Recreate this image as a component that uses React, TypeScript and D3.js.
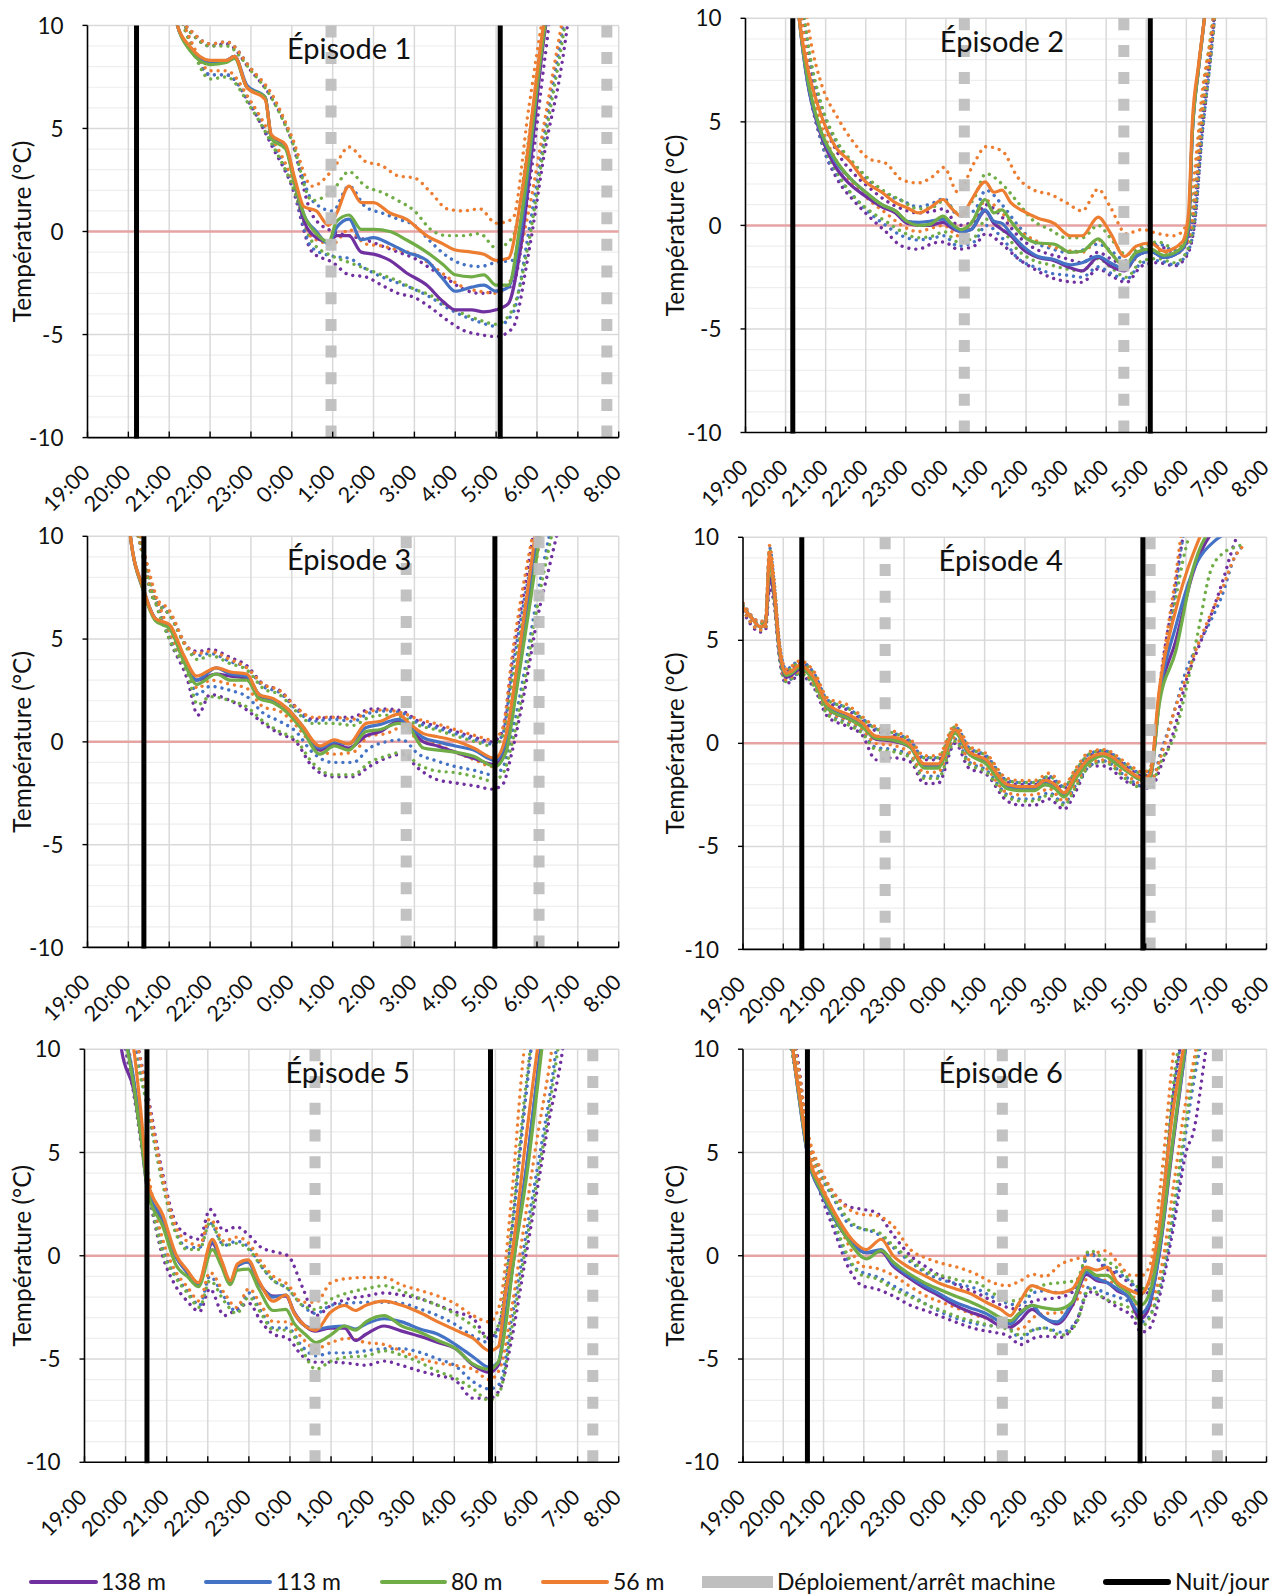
import React from 'react';
import * as d3 from 'd3';

// ---------- shared labels ----------
const hourLabels = ['19:00', '20:00', '21:00', '22:00', '23:00', '0:00', '1:00', '2:00', '3:00', '4:00', '5:00', '6:00', '7:00', '8:00'];
const depthLabels = ['138 m', '113 m', '80 m', '56 m'];
const depthColors = ['#7030A0', '#4472C4', '#70AD47', '#ED7D31'];
const markerLabels = ['Déploiement/arrêt machine', 'Nuit/jour'];
const episodeTitles = ['Épisode 1', 'Épisode 2', 'Épisode 3', 'Épisode 4', 'Épisode 5', 'Épisode 6'];
const yTicks = [-10, -5, 0, 5, 10];

// time unit: hours after 19:00

// ---------- Episode 1 ----------
const ep1Time = [2.0, 2.2, 2.5, 3.0, 3.4, 3.6, 3.9, 4.35, 4.5, 4.85, 5.07, 5.3, 5.6, 5.9, 6.1, 6.4, 6.7, 7.0, 7.4, 7.8, 8.3, 8.7, 9.0, 9.4, 9.7, 10.0, 10.3, 10.6, 11.2, 11.6];
const ep1S138 = [12, 10, 8.9, 8.2, 8.3, 8.5, 7.0, 6.5, 4.6, 4.1, 2.4, 0.5, -0.3, -0.5, -0.2, -0.2, -1.0, -1.1, -1.4, -2.0, -2.6, -3.4, -3.8, -3.8, -3.9, -3.8, -3.5, -0.8, 9.8, 14];
const ep1S113 = [12, 10, 8.9, 8.2, 8.3, 8.5, 7.1, 6.5, 4.6, 4.1, 2.4, 0.8, 0.0, -0.6, 0.2, 0.6, -0.4, -0.3, -0.6, -1.0, -1.4, -2.3, -2.9, -2.7, -2.6, -2.9, -2.7, 0.0, 10.2, 14];
const ep1S80 = [12, 10, 8.8, 8.1, 8.2, 8.4, 7.0, 6.5, 4.5, 4.0, 2.3, 0.8, -0.1, -0.5, 0.5, 0.8, 0.1, 0.1, 0.0, -0.4, -1.0, -1.6, -2.1, -2.2, -2.1, -2.6, -2.6, 0.5, 10, 14];
const ep1S56 = [12, 10, 9.0, 8.3, 8.3, 8.5, 7.0, 6.4, 4.7, 4.2, 2.6, 1.2, 1.0, 0.3, 0.9, 2.2, 1.4, 1.4, 0.9, 0.6, -0.2, -0.6, -0.9, -1.0, -1.1, -1.4, -1.3, 1.5, 10.5, 14];
const ep1EnvTime = [2.0, 2.5, 3.0, 3.4, 4.0, 4.5, 5.0, 5.5, 6.0, 6.4, 6.8, 7.2, 7.6, 8.0, 8.4, 8.8, 9.2, 9.6, 10.0, 10.4, 10.8, 11.2, 11.6, 12.0];
const ep1Hi56 = [11, 9.8, 9.1, 9.2, 7.9, 6.7, 4.6, 2.2, 3.0, 4.1, 3.4, 3.2, 2.7, 2.6, 1.9, 1.1, 1.0, 1.1, 0.4, 0.6, 6.0, 11, 14, 14];
const ep1Lo56 = [12, 9.4, 7.8, 7.8, 6.3, 4.6, 2.6, -0.3, -0.6, 0.1, -0.6, -0.7, -0.9, -1.1, -1.6, -2.2, -2.7, -2.9, -3.0, -2.2, 1.0, 5.5, 10, 14];
const ep1Hi80 = [11, 9.7, 9.0, 9.0, 7.8, 6.5, 4.4, 1.5, 2.0, 2.9, 2.2, 1.9, 1.5, 1.0, 0.1, -0.2, -0.2, -0.1, -0.8, -0.3, 4.5, 10.5, 14, 14];
const ep1Lo80 = [12, 9.2, 7.4, 7.5, 6.0, 4.3, 2.3, -0.5, -1.2, -1.5, -1.8, -2.1, -2.4, -2.8, -3.1, -3.6, -4.0, -4.3, -4.5, -3.8, -0.5, 4.5, 9.0, 14];
const ep1Hi113 = [11, 9.8, 9.1, 9.2, 7.9, 6.6, 4.5, 1.5, 1.0, 2.2, 1.2, 0.9, 0.6, 0.3, -0.5, -1.2, -1.6, -1.7, -1.5, -1.4, 3.5, 10, 14, 14];
const ep1Lo113 = [12, 9.3, 7.6, 7.6, 6.2, 4.4, 2.4, -0.8, -1.2, -1.3, -1.8, -2.2, -2.5, -2.8, -3.2, -3.7, -4.1, -4.4, -4.6, -4.0, 0.0, 5.0, 9.5, 14];
const ep1Hi138 = [11, 9.7, 9.0, 9.1, 7.8, 6.5, 4.4, 0.8, 0.0, -0.2, -0.4, -0.7, -1.0, -1.3, -1.8, -2.3, -2.8, -3.0, -2.9, -2.6, 2.0, 8.5, 14, 14];
const ep1Lo138 = [12, 9.3, 7.6, 7.6, 6.1, 4.2, 2.2, -1.0, -1.5, -2.1, -2.2, -2.6, -3.0, -3.2, -3.7, -4.3, -4.8, -5.0, -5.1, -4.7, -1.0, 4.0, 8.0, 14];
const ep1Night = [1.2, 10.1];
const ep1Machine = [5.96, 12.71];

// ---------- Episode 2 ----------
const ep2Time = [1.2, 1.34, 1.54, 1.84, 2.24, 2.6, 3.0, 3.4, 3.74, 4.03, 4.33, 4.6, 4.93, 5.13, 5.38, 5.63, 5.98, 6.2, 6.4, 6.62, 6.92, 7.3, 7.7, 8.1, 8.4, 8.8, 9.1, 9.46, 9.75, 10.1, 10.45, 10.9, 11.05, 11.15, 11.3, 11.45, 11.6];
const ep2S138 = [13, 10, 7.0, 4.6, 2.85, 2.0, 1.4, 0.9, 0.6, 0.1, 0.0, 0.0, 0.15, -0.1, -0.3, -0.2, 0.7, 0.1, -0.2, -0.5, -1.15, -1.55, -1.7, -2.05, -2.2, -1.55, -1.95, -2.2, -1.5, -1.25, -1.55, -1.15, -0.3, 4.5, 7.5, 10, 13];
const ep2S113 = [13, 10, 7.0, 4.7, 3.1, 2.3, 1.6, 1.0, 0.7, 0.2, 0.15, 0.2, 0.3, 0.0, -0.3, -0.2, 0.75, 0.2, 0.1, -0.4, -1.0, -1.5, -1.65, -1.9, -1.8, -1.5, -1.8, -2.1, -1.5, -1.25, -1.55, -1.15, -0.2, 4.5, 7.5, 10, 13];
const ep2S80 = [13, 10, 7.2, 4.8, 3.2, 2.3, 1.6, 1.0, 0.7, 0.2, 0.0, 0.05, 0.45, 0.1, -0.2, 0.1, 1.25, 0.6, 0.75, 0.2, -0.5, -0.85, -0.9, -1.3, -1.25, -0.65, -1.3, -1.95, -1.3, -1.15, -1.45, -1.05, 0.0, 4.5, 7.5, 10, 13];
const ep2S56 = [13, 10, 7.7, 5.6, 3.8, 3.1, 2.1, 1.6, 1.1, 0.85, 0.6, 0.85, 1.25, 0.85, 0.45, 1.2, 2.1, 1.6, 1.7, 1.1, 0.7, 0.35, 0.1, -0.5, -0.5, 0.4, -0.35, -1.5, -1.0, -0.85, -1.25, -0.8, 0.5, 5.0, 7.7, 10, 13];
const ep2EnvTime = [1.2, 1.4, 1.6, 1.9, 2.3, 2.7, 3.1, 3.5, 3.9, 4.3, 4.7, 4.95, 5.3, 5.7, 6.0, 6.4, 6.8, 7.2, 7.6, 8.0, 8.4, 8.8, 9.1, 9.5, 9.9, 10.3, 10.7, 11.0, 11.2, 11.4, 11.6, 11.8];
const ep2Hi56 = [13, 12, 9.2, 6.8, 5.2, 4.0, 3.2, 3.0, 2.2, 2.05, 2.4, 2.8, 1.6, 3.0, 3.8, 3.6, 2.3, 1.7, 1.5, 1.1, 0.7, 1.75, 0.9, -0.4, -0.2, -0.4, -0.5, 0.0, 2.5, 6.5, 9.0, 12];
const ep2Lo56 = [13, 10, 7.2, 4.8, 3.0, 2.0, 1.2, 0.6, 0.0, -0.3, -0.1, 0.0, -0.5, 0.3, 1.2, 0.6, -0.2, -0.7, -1.0, -1.2, -1.3, -0.7, -1.3, -2.0, -1.3, -1.2, -1.4, -0.9, 1.0, 5.5, 8.5, 12];
const ep2Hi80 = [13, 11, 8.3, 5.8, 4.0, 3.0, 2.2, 1.6, 1.2, 0.8, 0.9, 1.2, 0.6, 1.3, 2.5, 2.0, 1.1, 0.2, -0.2, -0.6, -0.6, 0.0, -0.6, -1.4, -1.0, -0.8, -1.1, -0.7, 1.5, 6.0, 9.0, 12];
const ep2Lo80 = [13, 9.6, 6.6, 4.2, 2.5, 1.4, 0.7, 0.2, -0.3, -0.6, -0.5, -0.3, -0.8, -0.6, 0.3, -0.2, -1.2, -1.7, -1.9, -2.1, -2.2, -1.6, -2.0, -2.5, -1.7, -1.6, -1.8, -1.3, 0.3, 4.8, 8.0, 12];
const ep2Hi113 = [13, 11, 8.2, 5.7, 3.9, 2.9, 2.1, 1.5, 1.2, 0.9, 1.1, 1.3, 0.5, 0.7, 1.7, 1.0, 0.0, -0.8, -1.1, -1.3, -1.2, -0.9, -1.2, -1.7, -1.1, -0.9, -1.2, -0.8, 1.0, 5.5, 8.8, 12];
const ep2Lo113 = [13, 9.5, 6.6, 4.0, 2.4, 1.4, 0.6, 0.0, -0.5, -0.7, -0.6, -0.5, -1.0, -0.8, 0.0, -0.6, -1.6, -2.0, -2.3, -2.4, -2.5, -2.0, -2.3, -2.6, -1.8, -1.7, -1.9, -1.4, 0.0, 4.5, 8.0, 12];
const ep2Hi138 = [13, 10.5, 7.8, 5.3, 3.5, 2.5, 1.8, 1.2, 0.8, 0.6, 0.7, 0.8, 0.0, 0.2, 1.0, 0.4, -0.5, -1.1, -1.4, -1.6, -1.8, -1.3, -1.6, -1.9, -1.2, -1.0, -1.3, -0.9, 0.8, 5.0, 8.5, 12];
const ep2Lo138 = [13, 9.5, 6.5, 4.0, 2.2, 1.2, 0.4, -0.3, -1.0, -1.15, -0.85, -0.8, -1.15, -1.0, -0.4, -0.9, -1.6, -2.1, -2.5, -2.7, -2.75, -2.1, -2.4, -2.75, -1.95, -1.8, -1.95, -1.5, 0.0, 4.5, 8.0, 12];
const ep2Night = [1.18, 10.1];
const ep2Machine = [5.46, 9.44];

// ---------- Episode 3 ----------
const ep3Time = [0.9, 1.05, 1.36, 1.66, 2.01, 2.36, 2.67, 3.15, 3.5, 3.9, 4.2, 4.55, 4.9, 5.25, 5.69, 6.04, 6.39, 6.82, 7.17, 7.61, 7.87, 8.22, 8.57, 9.0, 9.45, 9.97, 10.24, 10.5, 10.85, 11.1, 11.3];
const ep3S138 = [13, 10, 7.4, 6.0, 5.6, 4.0, 3.0, 3.3, 3.2, 3.1, 2.2, 2.0, 1.5, 0.7, -0.4, -0.1, -0.3, 0.3, 0.5, 1.0, 0.7, 0.0, -0.2, -0.5, -0.8, -1.1, -0.3, 2.7, 7.5, 11, 13];
const ep3S113 = [13, 10, 7.5, 6.0, 5.6, 4.0, 3.0, 3.6, 3.3, 3.2, 2.3, 2.0, 1.6, 0.8, -0.3, 0.0, -0.1, 0.7, 0.85, 1.1, 0.8, 0.2, 0.0, -0.2, -0.4, -0.9, 0.0, 3.0, 8.0, 11.5, 13];
const ep3S80 = [13, 10, 7.4, 5.9, 5.5, 3.9, 2.8, 3.3, 3.0, 3.0, 2.1, 1.9, 1.4, 0.6, -0.6, -0.2, -0.4, 0.5, 0.6, 0.9, 0.7, -0.3, -0.4, -0.5, -0.7, -1.2, -0.5, 2.5, 7.0, 10.5, 13];
const ep3S56 = [13, 10, 7.5, 6.0, 5.7, 4.2, 3.2, 3.6, 3.4, 3.3, 2.3, 2.1, 1.6, 0.8, -0.2, 0.1, -0.1, 0.9, 1.0, 1.35, 0.9, 0.4, 0.25, 0.05, -0.3, -0.8, 0.3, 3.5, 8.5, 12, 13];
const ep3EnvTime = [1.0, 1.3, 1.6, 2.0, 2.45, 2.7, 3.0, 3.5, 3.9, 4.3, 4.7, 5.1, 5.5, 6.0, 6.5, 6.9, 7.3, 7.7, 8.1, 8.5, 9.0, 9.5, 9.9, 10.15, 10.4, 10.7, 11.0, 11.3, 11.6];
const ep3Hi56 = [12, 9.6, 7.2, 6.4, 4.6, 4.3, 4.4, 4.0, 3.6, 2.8, 2.5, 1.7, 1.2, 1.2, 1.1, 1.5, 1.55, 1.4, 1.1, 0.9, 0.6, 0.3, 0.1, 0.6, 4.3, 8.0, 11, 13, 13];
const ep3Lo56 = [13, 10, 7.6, 5.4, 3.6, 2.6, 3.0, 2.8, 2.6, 1.7, 1.5, 0.8, -0.1, -0.6, -0.5, 0.3, 0.4, 0.7, 0.1, -0.1, -0.5, -0.9, -1.2, -0.5, 2.0, 5.5, 9.0, 12, 13];
const ep3Hi80 = [12, 9.5, 7.0, 6.2, 4.5, 4.0, 4.2, 3.8, 3.5, 2.6, 2.3, 1.5, 0.9, 0.9, 0.8, 1.2, 1.3, 1.2, 0.8, 0.6, 0.3, 0.0, -0.2, 0.2, 3.0, 6.5, 9.5, 12, 13];
const ep3Lo80 = [13, 9.8, 7.2, 5.0, 3.3, 1.8, 2.2, 2.0, 1.7, 1.0, 0.5, 0.1, -1.0, -1.6, -1.6, -1.0, -0.7, -0.5, -1.1, -1.4, -1.5, -1.7, -1.9, -1.6, 0.0, 3.0, 6.5, 9.5, 12];
const ep3Hi113 = [12, 9.6, 7.1, 6.3, 4.6, 4.2, 4.3, 3.9, 3.6, 2.7, 2.4, 1.6, 1.0, 1.1, 1.0, 1.4, 1.5, 1.4, 0.9, 0.7, 0.4, 0.1, -0.1, 0.3, 3.5, 7.0, 10, 12.5, 13];
const ep3Lo113 = [13, 10, 7.4, 5.2, 3.4, 2.3, 2.7, 2.5, 2.2, 1.4, 1.0, 0.5, -0.5, -1.0, -1.0, -0.3, 0.0, 0.1, -0.6, -0.9, -1.2, -1.4, -1.6, -1.3, 0.5, 3.5, 7.0, 10, 12.5];
const ep3Hi138 = [12, 9.5, 7.0, 6.2, 4.6, 4.4, 4.5, 4.1, 3.7, 2.8, 2.5, 1.7, 1.1, 1.2, 1.2, 1.6, 1.6, 1.5, 1.0, 0.8, 0.5, 0.2, 0.0, 0.5, 4.0, 7.5, 11, 13, 13];
const ep3Lo138 = [13, 10, 7.4, 5.0, 3.0, 1.3, 2.3, 2.0, 1.55, 0.9, 0.4, 0.0, -1.2, -1.7, -1.7, -1.2, -0.8, -0.6, -1.3, -1.8, -2.0, -2.15, -2.3, -2.1, -0.4, 2.5, 5.9, 8.5, 11];
const ep3Night = [1.38, 9.97];
const ep3Machine = [7.8, 11.05];

// ---------- Episode 4 ----------
const ep4Time = [0, 0.21, 0.43, 0.56, 0.66, 0.77, 0.9, 1.07, 1.2, 1.41, 1.76, 2.1, 2.61, 2.96, 3.3, 3.73, 4.16, 4.5, 4.84, 5.27, 5.61, 6.04, 6.56, 6.9, 7.24, 7.5, 7.75, 7.97, 8.27, 8.61, 8.95, 9.2, 9.56, 9.94, 10.11, 10.33, 10.75, 11.18, 11.7, 12.5];
const ep4S138 = [6.6, 6.1, 5.65, 5.8, 8.0, 7.2, 4.5, 3.2, 3.3, 3.6, 3.1, 1.7, 1.2, 0.85, 0.2, 0.1, -0.2, -1.1, -1.1, 0.55, -0.5, -0.9, -2.1, -2.25, -2.2, -2.0, -2.1, -2.5, -1.6, -0.8, -0.6, -0.8, -1.35, -1.8, -1.7, 2.0, 5.0, 8.3, 10.3, 11];
const ep4S113 = [6.6, 6.1, 5.65, 5.8, 9.0, 7.5, 4.6, 3.3, 3.4, 3.7, 3.1, 1.8, 1.3, 0.9, 0.3, 0.2, -0.2, -1.1, -1.1, 0.6, -0.5, -0.9, -2.1, -2.2, -2.2, -1.9, -2.1, -2.5, -1.6, -0.8, -0.55, -0.8, -1.35, -1.75, -1.6, 2.2, 5.7, 8.4, 9.8, 10.5];
const ep4S80 = [6.6, 6.1, 5.65, 5.8, 8.8, 7.4, 4.6, 3.3, 3.4, 3.7, 3.0, 1.7, 1.2, 0.8, 0.25, 0.15, -0.2, -1.2, -1.2, 0.5, -0.5, -1.0, -2.2, -2.3, -2.3, -2.0, -2.2, -2.6, -1.7, -0.9, -0.6, -0.9, -1.4, -1.8, -1.7, 1.8, 4.5, 8.5, 10.5, 11];
const ep4S56 = [6.6, 6.1, 5.65, 5.8, 9.2, 7.6, 4.7, 3.4, 3.5, 3.8, 3.2, 1.9, 1.4, 1.0, 0.35, 0.3, -0.1, -1.0, -1.0, 0.65, -0.4, -0.8, -2.0, -2.1, -2.1, -1.8, -2.0, -2.4, -1.5, -0.7, -0.5, -0.7, -1.3, -1.7, -1.5, 2.5, 6.5, 9.2, 11, 11];
const ep4EnvTime = [0, 0.43, 0.56, 0.66, 0.77, 0.9, 1.07, 1.41, 1.76, 2.1, 2.61, 2.96, 3.3, 3.73, 4.16, 4.5, 4.84, 5.27, 5.61, 6.04, 6.56, 6.9, 7.24, 7.6, 7.97, 8.27, 8.61, 8.95, 9.56, 9.94, 10.11, 10.4, 10.7, 11.0, 11.3, 11.6, 11.9, 12.2, 12.5];
const ep4Hi56 = [6.8, 5.9, 6.1, 9.6, 8.0, 5.0, 3.6, 4.0, 3.5, 2.2, 1.85, 1.3, 0.8, 0.6, 0.2, -0.6, -0.6, 0.9, -0.1, -0.5, -1.7, -1.8, -1.8, -1.45, -2.0, -1.2, -0.4, -0.3, -1.0, -1.4, -1.2, 3.5, 7.5, 11, 11, 11, 11, 11, 11];
const ep4Lo56 = [6.5, 5.5, 5.6, 8.6, 7.2, 4.4, 3.1, 3.5, 2.9, 1.6, 1.1, 0.7, 0.0, -0.1, -0.5, -1.4, -1.4, 0.3, -0.8, -1.2, -2.4, -2.5, -2.5, -2.2, -2.8, -1.9, -1.0, -0.8, -1.6, -2.0, -1.9, -0.5, 1.5, 3.2, 4.8, 6.2, 7.5, 9.0, 9.7];
const ep4Hi80 = [6.7, 5.8, 6.0, 9.4, 7.9, 4.9, 3.5, 3.9, 3.4, 2.1, 1.7, 1.2, 0.7, 0.5, 0.1, -0.7, -0.7, 0.8, -0.2, -0.6, -1.8, -1.9, -1.9, -1.6, -2.1, -1.3, -0.5, -0.35, -1.1, -1.5, -1.3, 3.0, 6.5, 9.5, 11, 11, 11, 11, 11];
const ep4Lo80 = [6.5, 5.5, 5.6, 8.2, 7.0, 4.3, 3.0, 3.4, 2.8, 1.4, 0.9, 0.5, -0.3, -0.4, -0.7, -1.7, -1.7, 0.1, -1.0, -1.4, -2.6, -2.8, -2.8, -2.5, -3.0, -2.1, -1.1, -0.9, -1.8, -2.2, -2.1, -0.8, 0.3, 2.6, 5.4, 8.3, 9.2, 9.5, 9.7];
const ep4Hi113 = [6.8, 5.9, 6.0, 9.5, 7.9, 4.9, 3.6, 4.0, 3.4, 2.1, 1.7, 1.2, 0.7, 0.5, 0.1, -0.7, -0.7, 0.8, -0.2, -0.6, -1.8, -1.9, -1.9, -1.6, -2.1, -1.3, -0.5, -0.35, -1.1, -1.5, -1.3, 3.2, 7.0, 10.5, 11, 11, 11, 11, 11];
const ep4Lo113 = [6.5, 5.5, 5.6, 8.4, 7.1, 4.3, 3.0, 3.4, 2.8, 1.5, 1.0, 0.6, -0.2, -0.3, -0.6, -1.6, -1.6, 0.2, -0.9, -1.3, -2.5, -2.7, -2.7, -2.4, -2.9, -2.0, -1.1, -0.85, -1.7, -2.1, -2.0, -0.3, 1.5, 3.5, 4.8, 5.9, 7.2, 9.0, 9.7];
const ep4Hi138 = [6.7, 5.8, 6.0, 8.6, 7.6, 4.8, 3.5, 3.9, 3.4, 2.0, 1.6, 1.1, 0.6, 0.4, 0.0, -0.8, -0.8, 0.7, -0.3, -0.7, -1.9, -2.0, -2.0, -1.7, -2.2, -1.4, -0.6, -0.4, -1.2, -1.6, -1.4, 3.6, 7.1, 10.5, 11, 11, 11, 11, 11];
const ep4Lo138 = [6.4, 5.4, 5.5, 7.5, 6.8, 4.2, 2.9, 3.3, 2.7, 1.3, 0.8, 0.4, -0.8, -0.7, -0.9, -1.95, -1.95, 0.0, -1.2, -1.5, -2.8, -3.0, -3.0, -2.7, -3.2, -2.3, -1.1, -1.1, -1.9, -2.1, -2.2, -1.0, 0.6, 3.0, 4.6, 6.1, 7.8, 9.7, 11];
const ep4Night = [1.46, 9.93];
const ep4Machine = [3.53, 10.11];

// ---------- Episode 5 ----------
const ep5Time = [0.8, 0.9, 1.2, 1.37, 1.55, 1.9, 2.24, 2.5, 2.77, 3.11, 3.33, 3.55, 3.72, 3.98, 4.24, 4.59, 4.9, 5.11, 5.37, 5.63, 5.98, 6.33, 6.59, 6.85, 7.29, 7.72, 8.16, 8.6, 9.03, 9.46, 9.85, 10.07, 10.24, 10.42, 10.77, 11.1, 11.3];
const ep5S138 = [14, 10, 8.0, 5.8, 3.0, 1.7, -0.1, -0.8, -1.4, 0.6, -0.3, -1.3, -0.5, -0.3, -1.3, -1.95, -1.95, -2.75, -3.4, -3.65, -3.5, -3.5, -4.1, -3.8, -3.4, -3.65, -3.9, -4.2, -4.5, -5.3, -5.65, -5.3, -3.2, -0.5, 4.5, 10, 13];
const ep5S113 = [14, 12, 8.5, 6.0, 3.1, 1.8, -0.1, -0.8, -1.4, 0.7, -0.3, -1.3, -0.5, -0.3, -1.3, -2.0, -1.9, -2.8, -3.4, -3.55, -3.45, -3.4, -3.55, -3.3, -3.05, -3.2, -3.55, -3.8, -4.3, -4.9, -5.4, -5.15, -3.0, -0.5, 4.5, 10, 13];
const ep5S80 = [14, 12, 8.2, 5.8, 3.0, 1.45, -0.5, -1.0, -1.5, 0.3, -0.5, -1.4, -0.7, -0.65, -1.6, -2.65, -2.6, -3.3, -3.8, -4.2, -3.85, -3.4, -3.6, -3.2, -2.9, -3.4, -3.7, -4.1, -4.5, -5.25, -5.5, -5.15, -3.5, -0.6, 4.0, 9.5, 13];
const ep5S56 = [14, 13, 10, 7.0, 3.5, 2.0, 0.0, -0.7, -1.3, 0.8, -0.2, -1.2, -0.4, -0.2, -1.2, -2.2, -1.9, -2.8, -3.4, -3.6, -2.75, -2.4, -2.65, -2.4, -2.2, -2.4, -2.75, -3.2, -3.6, -4.0, -4.6, -4.4, -1.9, 0.3, 6.1, 11, 13];
const ep5EnvTime = [0.6, 0.9, 1.2, 1.5, 1.9, 2.2, 2.5, 2.8, 3.05, 3.4, 3.7, 4.0, 4.3, 4.6, 4.95, 5.3, 5.63, 6.0, 6.4, 6.85, 7.3, 7.7, 8.2, 8.6, 9.0, 9.46, 9.85, 10.1, 10.4, 10.7, 11.0, 11.3, 11.6, 11.9];
const ep5Hi56 = [14, 13, 11, 8.0, 3.8, 1.5, 0.7, 0.5, 1.8, 0.7, 0.9, 0.6, -0.3, -1.0, -1.4, -2.25, -2.25, -1.3, -1.1, -1.05, -1.05, -1.4, -1.7, -1.95, -2.3, -2.9, -3.2, -2.4, 3.0, 10, 13, 14, 14, 14];
const ep5Lo56 = [14, 12, 8.5, 4.5, 0.8, -0.7, -1.5, -2.2, -0.8, -1.8, -2.5, -1.6, -2.4, -3.2, -3.2, -4.0, -4.5, -4.2, -4.0, -4.2, -4.3, -4.6, -5.0, -5.2, -5.3, -5.5, -6.0, -5.5, -2.5, 1.5, 5.5, 9.0, 13, 14];
const ep5Hi80 = [14, 13, 10, 7.5, 3.5, 1.2, 0.3, 0.3, 1.6, 0.5, 0.6, 0.3, -0.5, -1.2, -1.6, -2.4, -2.6, -2.1, -1.8, -1.6, -1.45, -1.7, -2.1, -2.4, -2.8, -3.4, -4.0, -3.2, 1.5, 7.5, 12, 14, 14, 14];
const ep5Lo80 = [14, 11.5, 8.0, 4.0, 0.2, -1.0, -1.8, -2.5, -1.2, -2.2, -2.8, -2.0, -2.8, -3.6, -3.6, -4.6, -5.5, -5.1, -4.9, -4.85, -4.6, -4.8, -5.2, -5.6, -5.9, -6.45, -7.0, -6.6, -3.5, 0.0, 3.5, 7.0, 11, 14];
const ep5Hi113 = [14, 13, 10.5, 7.5, 3.6, 1.3, 0.4, 0.4, 1.6, 0.5, 0.7, 0.4, -0.5, -1.2, -1.6, -2.4, -2.8, -2.4, -2.3, -2.25, -2.25, -2.3, -2.6, -2.9, -3.3, -3.9, -4.2, -3.5, 1.0, 7.0, 12, 14, 14, 14];
const ep5Lo113 = [14, 12, 8.2, 4.2, 0.4, -0.9, -1.7, -2.4, -1.0, -2.0, -2.7, -1.8, -2.7, -3.5, -3.5, -4.4, -4.85, -4.7, -4.7, -4.6, -4.5, -4.5, -4.7, -5.0, -5.3, -6.1, -6.45, -6.2, -3.0, 0.5, 4.0, 7.5, 11.5, 14];
const ep5Hi138 = [14, 13, 11, 8.2, 4.0, 1.7, 1.0, 0.8, 2.25, 1.2, 1.4, 1.0, 0.4, 0.2, 0.0, -1.5, -2.9, -2.4, -2.1, -1.95, -1.8, -1.9, -2.1, -2.4, -2.7, -3.05, -4.0, -3.3, 1.2, 7.0, 12, 14, 14, 14];
const ep5Lo138 = [14, 11, 7.8, 3.8, 0.0, -1.4, -2.2, -2.7, -1.6, -2.9, -2.6, -2.3, -3.2, -3.8, -4.0, -4.85, -5.15, -5.15, -5.2, -5.3, -5.1, -5.3, -5.6, -5.8, -6.0, -6.9, -6.9, -6.5, -4.0, -0.5, 3.0, 6.5, 9.5, 14];
const ep5Night = [1.52, 9.88];
const ep5Machine = [5.61, 12.37];

// ---------- Episode 6 ----------
const ep6Time = [1.1, 1.24, 1.41, 1.63, 1.93, 2.27, 2.7, 3.06, 3.43, 3.73, 4.07, 4.5, 4.84, 5.27, 5.61, 6.04, 6.4, 6.64, 6.85, 7.18, 7.41, 7.8, 8.18, 8.53, 8.78, 9.04, 9.3, 9.55, 9.87, 10.07, 10.33, 10.67, 10.95, 11.2];
const ep6S138 = [13, 10, 7.4, 4.6, 3.1, 1.8, 0.6, 0.15, 0.2, -0.5, -1.0, -1.55, -1.9, -2.4, -2.7, -3.0, -3.4, -3.45, -3.2, -2.6, -2.9, -3.3, -2.4, -0.9, -1.2, -1.3, -1.7, -1.95, -3.05, -2.55, 0.0, 5.3, 9.5, 13];
const ep6S113 = [13, 10, 7.4, 4.6, 3.1, 1.8, 0.6, 0.15, 0.3, -0.4, -0.9, -1.45, -1.8, -2.25, -2.5, -2.8, -3.2, -3.3, -2.9, -2.4, -2.9, -3.2, -2.25, -0.8, -1.1, -1.3, -1.6, -1.95, -2.8, -2.4, 0.0, 5.5, 9.5, 13];
const ep6S80 = [13, 10, 7.5, 4.7, 3.2, 1.9, 0.5, -0.15, 0.25, -0.3, -0.8, -1.3, -1.6, -1.95, -2.2, -2.6, -3.0, -3.15, -2.8, -2.4, -2.5, -2.6, -2.25, -0.65, -0.95, -0.95, -1.4, -1.75, -2.4, -1.95, 0.3, 5.5, 9.7, 13];
const ep6S56 = [13, 10, 7.7, 4.85, 3.4, 2.1, 0.8, 0.3, 0.8, 0.0, -0.5, -0.95, -1.3, -1.6, -1.8, -2.25, -2.6, -2.9, -2.3, -1.45, -1.6, -1.8, -1.6, -0.55, -0.7, -0.55, -1.3, -1.6, -1.85, -1.3, 1.3, 6.9, 10.2, 13];
const ep6EnvTime = [1.0, 1.2, 1.4, 1.63, 1.93, 2.27, 2.6, 2.96, 3.3, 3.73, 4.16, 4.6, 5.0, 5.4, 5.8, 6.2, 6.56, 6.9, 7.2, 7.5, 7.9, 8.27, 8.6, 9.0, 9.3, 9.64, 9.9, 10.1, 10.4, 10.7, 11.0, 11.2, 11.45, 11.7];
const ep6Hi56 = [12, 10.5, 8.5, 5.8, 4.2, 3.0, 2.3, 2.0, 1.95, 1.45, 0.3, -0.15, -0.4, -0.6, -0.9, -1.3, -1.45, -1.2, -0.9, -1.0, -0.4, -0.15, 0.0, 0.25, -0.3, -0.95, -0.95, -0.5, 4.0, 10, 13, 13, 13, 13];
const ep6Lo56 = [13, 11, 8.8, 5.5, 3.6, 2.0, 0.6, -0.5, -0.6, -0.95, -1.5, -2.0, -2.3, -2.6, -2.9, -3.1, -3.4, -3.55, -3.0, -2.8, -2.75, -2.2, -1.0, -1.2, -1.4, -1.75, -2.9, -2.5, -0.5, 3.5, 7.5, 9.5, 12, 13];
const ep6Hi80 = [12, 10, 8.0, 5.5, 4.0, 2.8, 1.8, 1.3, 1.2, 0.5, -0.2, -0.8, -1.0, -1.2, -1.3, -1.8, -2.2, -2.1, -1.6, -1.4, -1.3, -1.2, 0.25, -0.2, -0.6, -1.2, -1.6, -1.3, 2.5, 8.5, 12, 13, 13, 13];
const ep6Lo80 = [13, 11, 8.6, 5.2, 3.3, 1.6, 0.0, -0.95, -1.1, -1.6, -2.0, -2.4, -2.7, -3.0, -3.2, -3.4, -3.55, -3.85, -3.6, -3.5, -3.85, -3.3, -1.6, -2.1, -2.3, -2.6, -3.4, -3.0, -1.0, 2.5, 6.5, 9.0, 11.5, 13];
const ep6Hi113 = [12, 10, 8.0, 5.4, 3.9, 2.7, 1.6, 1.3, 1.1, 0.4, -0.3, -0.9, -1.2, -1.4, -1.6, -2.0, -2.3, -2.4, -1.8, -1.7, -1.8, -1.5, 0.1, -0.5, -0.8, -1.3, -1.8, -1.6, 2.0, 8.0, 11.5, 13, 13, 13];
const ep6Lo113 = [13, 11, 8.7, 5.3, 3.2, 1.5, -0.2, -0.8, -1.0, -1.45, -1.9, -2.4, -2.8, -3.1, -3.3, -3.4, -3.45, -4.0, -3.6, -3.5, -3.7, -3.2, -1.5, -1.8, -2.0, -2.3, -3.2, -2.9, -1.2, 2.0, 6.0, 8.5, 11, 13];
const ep6Hi138 = [12, 10, 8.2, 5.6, 4.1, 3.0, 2.4, 2.25, 2.1, 1.0, 0.0, -0.6, -1.1, -1.5, -1.8, -2.2, -2.5, -2.6, -2.2, -2.1, -2.0, -1.6, 0.15, -0.6, -0.9, -1.4, -1.9, -1.7, 2.2, 8.0, 11.5, 13, 13, 13];
const ep6Lo138 = [13, 11.5, 9.0, 5.2, 3.0, 1.2, -0.5, -1.45, -1.6, -1.95, -2.4, -2.7, -3.0, -3.3, -3.55, -3.7, -3.85, -4.3, -4.0, -3.9, -3.95, -3.2, -1.75, -2.1, -2.5, -2.9, -3.7, -3.5, -1.5, 1.5, 5.0, 6.1, 9.35, 13];
const ep6Night = [1.6, 9.86];
const ep6Machine = [6.44, 11.78];

// ---------- assembly ----------
const episodes = [
  { time: ep1Time, solid: [ep1S138, ep1S113, ep1S80, ep1S56], envTime: ep1EnvTime, hi: [ep1Hi138, ep1Hi113, ep1Hi80, ep1Hi56], lo: [ep1Lo138, ep1Lo113, ep1Lo80, ep1Lo56], night: ep1Night, machine: ep1Machine },
  { time: ep2Time, solid: [ep2S138, ep2S113, ep2S80, ep2S56], envTime: ep2EnvTime, hi: [ep2Hi138, ep2Hi113, ep2Hi80, ep2Hi56], lo: [ep2Lo138, ep2Lo113, ep2Lo80, ep2Lo56], night: ep2Night, machine: ep2Machine },
  { time: ep3Time, solid: [ep3S138, ep3S113, ep3S80, ep3S56], envTime: ep3EnvTime, hi: [ep3Hi138, ep3Hi113, ep3Hi80, ep3Hi56], lo: [ep3Lo138, ep3Lo113, ep3Lo80, ep3Lo56], night: ep3Night, machine: ep3Machine },
  { time: ep4Time, solid: [ep4S138, ep4S113, ep4S80, ep4S56], envTime: ep4EnvTime, hi: [ep4Hi138, ep4Hi113, ep4Hi80, ep4Hi56], lo: [ep4Lo138, ep4Lo113, ep4Lo80, ep4Lo56], night: ep4Night, machine: ep4Machine },
  { time: ep5Time, solid: [ep5S138, ep5S113, ep5S80, ep5S56], envTime: ep5EnvTime, hi: [ep5Hi138, ep5Hi113, ep5Hi80, ep5Hi56], lo: [ep5Lo138, ep5Lo113, ep5Lo80, ep5Lo56], night: ep5Night, machine: ep5Machine },
  { time: ep6Time, solid: [ep6S138, ep6S113, ep6S80, ep6S56], envTime: ep6EnvTime, hi: [ep6Hi138, ep6Hi113, ep6Hi80, ep6Hi56], lo: [ep6Lo138, ep6Lo113, ep6Lo80, ep6Lo56], night: ep6Night, machine: ep6Machine },
];

// plot boxes (layout only)
const boxes = [
  { l: 87.5, r: 618.7, t: 25.4, b: 437.6, titleOff: 65 },
  { l: 745.5, r: 1266.5, t: 18.3, b: 432.5, titleOff: 70 },
  { l: 87.5, r: 618.7, t: 536.3, b: 947.4, titleOff: 65 },
  { l: 743, r: 1266.5, t: 537.3, b: 949.4, titleOff: 68 },
  { l: 84.5, r: 618.7, t: 1049.2, b: 1462.3, titleOff: 62 },
  { l: 743, r: 1266.5, t: 1049.2, b: 1462.3, titleOff: 68 },
];

const FONT = "Lato, 'Open Sans', 'DejaVu Sans', sans-serif";

function Panel({ ep, box, idx }: any) {
  const { l, r, t, b, titleOff } = box;
  const x = d3.scaleLinear().domain([0, 13]).range([l, r]);
  const y = d3.scaleLinear().domain([-10, 10]).range([b, t]);
  const gen = d3.line().curve(d3.curveMonotoneX);
  const path = (ts: number[], vs: number[]) => gen(ts.map((tt, k) => [x(tt), y(vs[k])]) as any) || '';
  const clipId = `clip-p${idx}`;
  const minor = d3.range(-9, 10).filter((v) => v % 5 !== 0);
  const hours = d3.range(0, 14);
  const H = b - t;
  const dash = 12;
  const period = (H - dash) / 15;
  return (
    <g>
      <defs>
        <clipPath id={clipId}>
          <rect x={l} y={t} width={r - l} height={H} />
        </clipPath>
      </defs>
      {minor.map((v) => (
        <line key={'mn' + v} x1={l} x2={r} y1={y(v)} y2={y(v)} stroke="#EEEEEE" strokeWidth={1.2} />
      ))}
      {[-5, 5, 10].map((v) => (
        <line key={'mj' + v} x1={l} x2={r} y1={y(v)} y2={y(v)} stroke="#D9D9D9" strokeWidth={1.5} />
      ))}
      {hours.slice(1).map((h) => (
        <line key={'vg' + h} x1={x(h)} x2={x(h)} y1={t} y2={b} stroke="#D9D9D9" strokeWidth={1.5} />
      ))}
      <line x1={l} x2={r} y1={y(0)} y2={y(0)} stroke="#E6A3A3" strokeWidth={2.5} />
      <g clipPath={`url(#${clipId})`}>
        {ep.hi.map((vs: number[], k: number) => (
          <path key={'hi' + k} d={path(ep.envTime, vs)} fill="none" stroke={depthColors[k]} strokeWidth={3.4} strokeDasharray="0.01 7" strokeLinecap="round" />
        ))}
        {ep.lo.map((vs: number[], k: number) => (
          <path key={'lo' + k} d={path(ep.envTime, vs)} fill="none" stroke={depthColors[k]} strokeWidth={3.4} strokeDasharray="0.01 7" strokeLinecap="round" />
        ))}
        {ep.solid.map((vs: number[], k: number) => (
          <path key={'s' + k} d={path(ep.time, vs)} fill="none" stroke={depthColors[k]} strokeWidth={3.2} strokeLinejoin="round" />
        ))}
      </g>
      {ep.machine.map((m: number, k: number) => (
        <line key={'m' + k} x1={x(m)} x2={x(m)} y1={t} y2={b} stroke="#BFBFBF" strokeWidth={11} strokeDasharray={`${dash} ${period - dash}`} opacity={0.95} />
      ))}
      {ep.night.map((m: number, k: number) => (
        <line key={'n' + k} x1={x(m)} x2={x(m)} y1={t} y2={b + 1} stroke="#000" strokeWidth={5} />
      ))}
      {/* axes */}
      <line x1={l} x2={l} y1={t} y2={b} stroke="#000" strokeWidth={1.6} />
      <line x1={l} x2={r} y1={b} y2={b} stroke="#000" strokeWidth={1.6} />
      {yTicks.map((v) => (
        <g key={'yt' + v}>
          <line x1={l - 5} x2={l} y1={y(v)} y2={y(v)} stroke="#000" strokeWidth={1.4} />
          <text x={l - 24} y={y(v)} dy="0.36em" textAnchor="end" fontSize={22.5} fontFamily={FONT} fill="#111">{v}</text>
        </g>
      ))}
      {hours.map((h) => (
        <line key={'xt' + h} x1={x(h)} x2={x(h)} y1={b - 6} y2={b} stroke="#000" strokeWidth={1.4} />
      ))}
      {hourLabels.map((lab, h) => (
        <text key={'xl' + h} transform={`translate(${x(h) - 1.5},${b + 31}) rotate(-45)`} textAnchor="end" dy="0.35em" fontSize={21.5} fontFamily={FONT} fill="#111">{lab}</text>
      ))}
      <text transform={`translate(${l - titleOff},${(t + b) / 2}) rotate(-90)`} textAnchor="middle" dy="0.35em" fontSize={24.5} fontFamily={FONT} fill="#111">Température (°C)</text>
      <text x={(l + r) / 2 - 4} y={t + 34} textAnchor="middle" fontSize={29} fontFamily={FONT} fill="#111">{episodeTitles[idx]}</text>
    </g>
  );
}

function Legend() {
  const ly = 1582;
  const items = [
    { x1: 31, x2: 96, tx: 101 },
    { x1: 206, x2: 270, tx: 276 },
    { x1: 382, x2: 445, tx: 451 },
    { x1: 543, x2: 607, tx: 613 },
  ];
  return (
    <g fontFamily={FONT} fontSize={23} fill="#111">
      {depthLabels.map((lab, k) => (
        <g key={lab}>
          <line x1={items[k].x1} x2={items[k].x2} y1={ly} y2={ly} stroke={depthColors[k]} strokeWidth={4} strokeLinecap="round" />
          <text x={items[k].tx} y={ly} dy="0.35em">{lab}</text>
        </g>
      ))}
      <rect x={702} y={ly - 6} width={71} height={12} fill="#BFBFBF" />
      <text x={777} y={ly} dy="0.35em">{markerLabels[0]}</text>
      <line x1={1106} x2={1168} y1={ly} y2={ly} stroke="#000" strokeWidth={6} strokeLinecap="round" />
      <text x={1175} y={ly} dy="0.35em">{markerLabels[1]}</text>
    </g>
  );
}

export default function App() {
  return (
    <svg width={1273} height={1595} style={{ position: 'absolute', left: 0, top: 0, background: '#fff' }}>
      <rect x={0} y={0} width={1273} height={1595} fill="#fff" />
      {episodes.map((ep, i) => (
        <Panel key={i} ep={ep} box={boxes[i]} idx={i} />
      ))}
      <Legend />
    </svg>
  );
}
